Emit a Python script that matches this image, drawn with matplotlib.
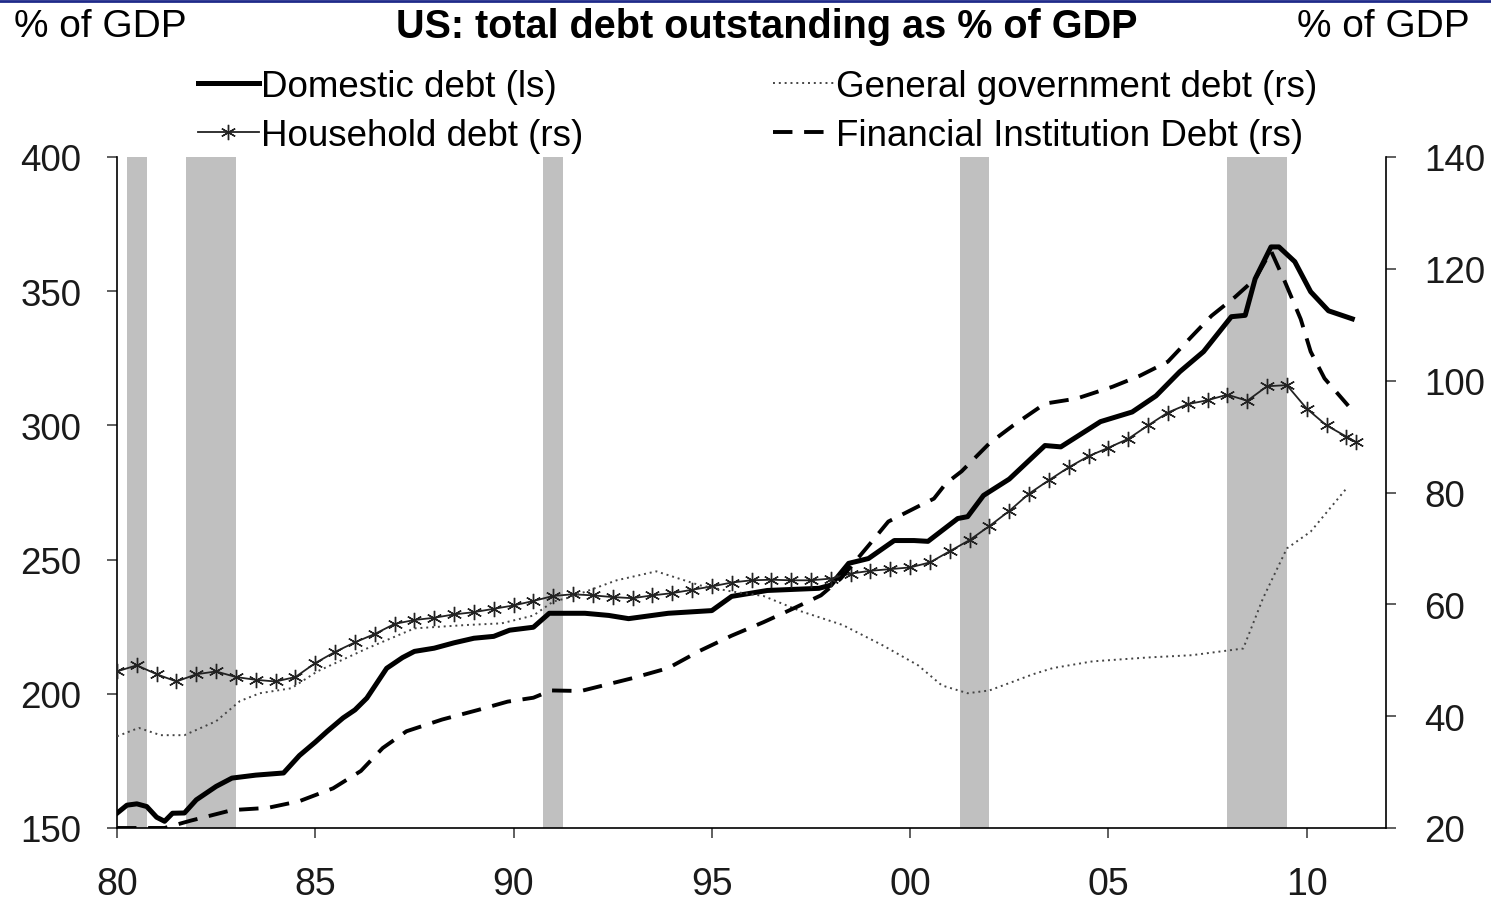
import matplotlib
matplotlib.use("Agg")
import matplotlib.pyplot as plt
from matplotlib.lines import Line2D

plt.rcParams['font.family'] = ['Liberation Sans', 'DejaVu Sans']

# Domestic debt, % of GDP (left scale)
dom_years = [1980.0, 1980.25, 1980.5, 1980.75, 1981.0, 1981.2, 1981.4, 1981.7, 1982.0, 1982.5,
             1982.9, 1983.5, 1984.2, 1984.6, 1985.0, 1985.3, 1985.7, 1986.0, 1986.3, 1986.8,
             1987.2, 1987.5, 1988.0, 1988.5, 1989.0, 1989.5, 1989.9, 1990.5, 1990.9, 1991.8,
             1992.4, 1992.9, 1993.9, 1995.0, 1995.5, 1996.4, 1997.7, 1998.0, 1998.45, 1998.95,
             1999.6, 2000.1, 2000.45, 2001.2, 2001.45, 2001.85, 2002.5, 2003.4, 2003.8, 2004.8,
             2005.6, 2006.2, 2006.8, 2007.4, 2008.1, 2008.45, 2008.7, 2009.1, 2009.3, 2009.7,
             2010.1, 2010.55, 2011.15]
dom_debt = [155.5, 158.5, 159.0, 158.0, 154.0, 152.5, 155.5, 155.6, 160.5, 165.5,
            168.6, 169.7, 170.5, 177.0, 182.0, 186.0, 191.0, 194.0, 198.4, 209.5,
            213.5, 215.8, 217.0, 219.0, 220.7, 221.4, 223.7, 224.8, 230.0, 230.0,
            229.2, 228.0, 230.0, 231.0, 236.3, 238.5, 239.3, 240.5, 248.6, 250.4,
            257.1, 257.1, 256.8, 265.3, 266.0, 273.9, 280.0, 292.5, 292.0, 301.4,
            305.0, 311.0, 320.0, 327.5, 340.5, 341.0, 354.6, 366.5, 366.5, 361.0,
            349.8, 342.7, 339.7]

# Household debt (right scale)
hh_years = [1980.0, 1980.5, 1981.0, 1981.5, 1982.0, 1982.5, 1983.0, 1983.5, 1984.0, 1984.5,
            1985.0, 1985.5, 1986.0, 1986.5, 1987.0, 1987.5, 1988.0, 1988.5, 1989.0, 1989.5,
            1990.0, 1990.5, 1991.0, 1991.5, 1992.0, 1992.5, 1993.0, 1993.5, 1994.0, 1994.5,
            1995.0, 1995.5, 1996.0, 1996.5, 1997.0, 1997.5, 1998.0, 1998.5, 1999.0, 1999.5,
            2000.0, 2000.5, 2001.0, 2001.5, 2002.0, 2002.5, 2003.0, 2003.5, 2004.0, 2004.5,
            2005.0, 2005.5, 2006.0, 2006.5, 2007.0, 2007.5, 2008.0, 2008.5, 2009.0, 2009.5,
            2010.0, 2010.5, 2011.0, 2011.25]
hh_debt = [48.0, 49.1, 47.5, 46.2, 47.5, 48.0, 47.0, 46.5, 46.2, 47.0,
           49.5, 51.5, 53.2, 54.7, 56.5, 57.2, 57.6, 58.2, 58.6, 59.2,
           59.8, 60.6, 61.5, 61.8, 61.6, 61.3, 61.1, 61.6, 62.0, 62.6,
           63.2, 63.9, 64.3, 64.4, 64.3, 64.3, 64.6, 65.5, 66.0, 66.3,
           66.6, 67.5, 69.5, 71.5, 74.0, 76.7, 79.8, 82.2, 84.5, 86.5,
           88.0, 89.6, 92.0, 94.3, 95.8, 96.5, 97.5, 96.4, 99.0, 99.2,
           95.0, 92.0, 90.0, 89.0]

# General government debt (right scale)
gov_years = [1980.0, 1980.55, 1981.1, 1981.7, 1982.5, 1983.1, 1983.6, 1984.4, 1985.05, 1986.3,
             1987.5, 1988.8, 1989.7, 1990.5, 1991.0, 1991.4, 1992.6, 1993.6, 1994.7, 1995.5,
             1996.3, 1997.25, 1998.3, 1999.3, 2000.2, 2000.8, 2001.45, 2002.0, 2003.1, 2003.6,
             2004.6, 2006.0, 2007.1, 2008.4, 2008.9, 2009.5, 2010.1, 2011.0]
gov_debt = [36.4, 37.9, 36.6, 36.6, 39.1, 42.7, 44.1, 45.0, 48.0, 52.1,
            55.7, 56.3, 56.6, 58.0, 60.5, 61.2, 64.3, 65.9, 63.4, 62.3,
            61.5, 58.75, 56.3, 52.7, 49.1, 45.5, 44.1, 44.6, 47.5, 48.6,
            49.8, 50.5, 50.9, 52.1, 61.1, 70.0, 73.0, 80.7]

# Financial institution debt (right scale)
fin_years = [1980.0, 1981.2, 1981.85, 1982.9, 1983.8, 1984.6, 1985.45, 1986.15, 1986.7, 1987.3,
             1988.2, 1989.1, 1989.85, 1990.5, 1990.95, 1991.7, 1993.0, 1993.9, 1994.7, 1995.5,
             1996.3, 1997.1, 1997.75, 1998.25, 1998.95, 1999.45, 2000.2, 2000.6, 2000.9, 2001.3,
             2002.0, 2002.6, 2003.4, 2004.2, 2005.1, 2005.8, 2006.5, 2007.1, 2007.6, 2008.2,
             2008.7, 2009.1, 2009.45, 2009.85, 2010.1, 2010.45, 2011.05]
fin_debt = [20.0, 20.0, 21.3, 23.2, 23.6, 24.8, 27.1, 30.2, 34.3, 37.3,
            39.4, 41.1, 42.6, 43.3, 44.6, 44.5, 46.8, 48.6, 51.7, 54.4,
            56.8, 59.4, 61.6, 64.6, 70.5, 74.8, 77.5, 78.9, 81.6, 83.8,
            88.8, 92.0, 95.9, 96.8, 98.9, 100.9, 103.4, 107.9, 111.6, 115.0,
            118.2, 123.2, 117.7, 111.0, 105.2, 100.4, 95.5]

# US recessions (shaded)
recessions = [(1980.25, 1980.75), (1981.75, 1983.0), (1990.75, 1991.25),
              (2001.25, 2002.0), (2008.0, 2009.5)]

x_ticks = [1980, 1985, 1990, 1995, 2000, 2005, 2010]
x_labels = ['80', '85', '90', '95', '00', '05', '10']
left_ticks = [150, 200, 250, 300, 350, 400]
right_ticks = [20, 40, 60, 80, 100, 120, 140]

W, H = 1491, 903
fig = plt.figure(figsize=(W / 100, H / 100), dpi=100)
ax = fig.add_axes([117 / W, 1 - 829 / H, (1386 - 117) / W, (829 - 158) / H])
ax2 = ax.twinx()

for start, end in recessions:
    ax.axvspan(start, end, color='#c0c0c0', lw=0, zorder=0)

l_dom, = ax.plot(dom_years, dom_debt, color='black', lw=3.6, zorder=3,
                 solid_joinstyle='round', label='Domestic debt (ls)')
l_hh, = ax2.plot(hh_years, hh_debt, color='#222222', lw=1.3, marker=(6, 2, 0),
                 markersize=11, markeredgewidth=1.0, label='Household debt (rs)')
l_gov, = ax2.plot(gov_years, gov_debt, color='#444444', lw=1.4,
                  linestyle=(0, (1, 2.0)), label='General government debt (rs)')
l_fin, = ax2.plot(fin_years, fin_debt, color='black', lw=2.8,
                  linestyle=(0, (5, 3)), label='Financial Institution Debt (rs)')

ax.set_xlim(1980, 2012)
ax.set_ylim(150, 400)
ax2.set_ylim(20, 140)
ax.set_xticks(x_ticks)
ax.set_xticklabels(x_labels)
ax.set_yticks(left_ticks)
ax2.set_yticks(right_ticks)

for a in (ax, ax2):
    a.spines['top'].set_visible(False)
    for s in a.spines.values():
        s.set_linewidth(1.2)
    a.tick_params(labelsize=26.5, length=7.5, width=1.2, color='#444444',
                  labelcolor='#1a1a1a')
ax.tick_params(axis='x', labelsize=27, pad=20)
ax.tick_params(axis='y', pad=18)
ax2.tick_params(axis='y', pad=20)
ax.spines['right'].set_visible(False)
ax2.spines['left'].set_visible(False)
ax2.spines['bottom'].set_visible(False)

fig.text(0.514, 0.970, 'US: total debt outstanding as % of GDP', ha='center', va='center',
         fontsize=28.5, fontweight='bold')
fig.text(14 / W, 0.970, '% of GDP', ha='left', va='center', fontsize=28)
fig.text(1470 / W, 0.970, '% of GDP', ha='right', va='center', fontsize=28)
fig.add_artist(Line2D([0, 1], [0.998, 0.998], color='#1f2a8a', lw=2))

fig.legend([l_dom, l_hh, l_gov, l_fin],
           [l.get_label() for l in (l_dom, l_hh, l_gov, l_fin)],
           loc='upper left', bbox_to_anchor=(198 / W, 1 - 70 / H), ncol=2,
           frameon=False, fontsize=26.5, handlelength=1.65, handletextpad=0.05,
           columnspacing=5.18, labelspacing=0.38, borderpad=0, borderaxespad=0)

fig.savefig('out.png', dpi=100)
